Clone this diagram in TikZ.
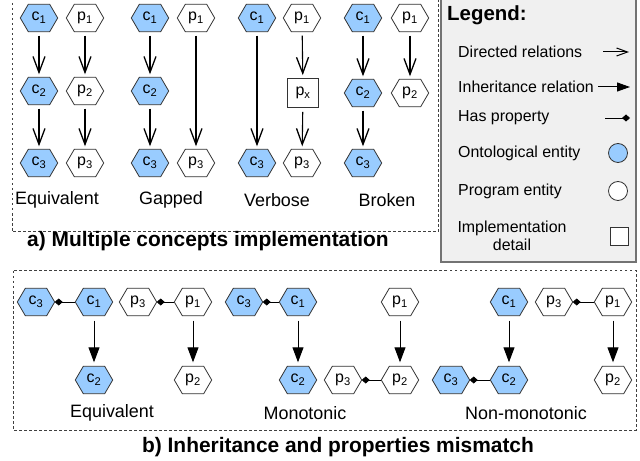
\documentclass[tikz,border=0pt]{standalone}
\usepackage{fontspec}
\setmainfont{Liberation Sans}
\usetikzlibrary{arrows.meta,backgrounds}
\definecolor{ontoblue}{HTML}{99CCFF}
\definecolor{legfill}{HTML}{F0F0F0}
\newcommand\hexoutline[1]{(#1.west) -- ([xshift=8bp]#1.north west) -- ([xshift=-8bp]#1.north east) -- (#1.east) -- ([xshift=-8bp]#1.south east) -- ([xshift=8bp]#1.south west) -- cycle}
\begin{document}
\begin{tikzpicture}[x=1bp,y=-1bp,
  hexline/.style={draw=black!80, line width=0.8bp},
  hexbase/.style={minimum width=37bp, minimum height=27bp, inner sep=0pt,
    font=\fontsize{16}{16}\selectfont},
  onto/.style={hexbase, append after command={\pgfextra{\begin{pgfonlayer}{background}\draw[hexline, fill=ontoblue] \hexoutline{\tikzlastnode};\end{pgfonlayer}}}},
  prog/.style={hexbase, append after command={\pgfextra{\begin{pgfonlayer}{background}\draw[hexline, fill=white] \hexoutline{\tikzlastnode};\end{pgfonlayer}}}},
  impl/.style={draw=black!80, fill=white, line width=0.8bp, minimum width=31bp,
    minimum height=29bp, inner sep=0pt, font=\fontsize{16}{16}\selectfont},
  dirarr/.style={-{Straight Barb[length=16bp,width=12bp,line width=1.3bp]},
    line width=1.1bp, shorten <=4bp, shorten >=3bp},
  inharr/.style={-{Triangle[length=15bp,width=11bp]}, line width=1bp,
    shorten <=5bp, shorten >=4bp},
  hasprop/.style={-{Diamond[length=8bp,width=7bp]}, line width=0.8bp},
  grouplbl/.style={font=\fontsize{18}{18}\selectfont},
  titlelbl/.style={font=\fontsize{21}{21}\selectfont\bfseries},
  legtxt/.style={font=\fontsize{16}{18}\selectfont, anchor=west, inner sep=0pt},
  dotbox/.style={draw=black!75, line width=1bp, dash pattern=on 2.5bp off 2.5bp}
]
\useasboundingbox (0,0) rectangle (640,461);

% frames
\draw[dotbox] (12,-2) rectangle (438,232);
\draw[dotbox] (13,271) rectangle (636,430);
\draw[draw=black!55, fill=legfill, line width=1.2bp] (441,-2) rectangle (636,262);

% ---------- a) top row ----------
% Equivalent
\node[onto] (ea1) at (39,18) {c\textsubscript{1}};
\node[onto] (ea2) at (39,91) {c\textsubscript{2}};
\node[onto] (ea3) at (39,163) {c\textsubscript{3}};
\node[prog] (ep1) at (85,18) {p\textsubscript{1}};
\node[prog] (ep2) at (85,91) {p\textsubscript{2}};
\node[prog] (ep3) at (85,163) {p\textsubscript{3}};
\draw[dirarr] (ea1) -- (ea2);
\draw[dirarr] (ea2) -- (ea3);
\draw[dirarr] (ep1) -- (ep2);
\draw[dirarr] (ep2) -- (ep3);
\node[grouplbl] (lEq) at (57,200) {Equivalent};
% Gapped
\node[onto] (ga1) at (150,18) {c\textsubscript{1}};
\node[onto] (ga2) at (150,91) {c\textsubscript{2}};
\node[onto] (ga3) at (150,163) {c\textsubscript{3}};
\node[prog] (gp1) at (196,18) {p\textsubscript{1}};
\node[prog] (gp3) at (196,163) {p\textsubscript{3}};
\draw[dirarr] (ga1) -- (ga2);
\draw[dirarr] (ga2) -- (ga3);
\draw[dirarr] (gp1) -- (gp3);
\node[grouplbl] (lGa) at (171,200) {Gapped};
% Verbose
\node[onto] (va1) at (257,18) {c\textsubscript{1}};
\node[onto] (va3) at (257,163) {c\textsubscript{3}};
\node[prog] (vp1) at (302,18) {p\textsubscript{1}};
\node[impl] (vpx) at (303,93) {p\textsubscript{x}};
\node[prog] (vp3) at (302,163) {p\textsubscript{3}};
\draw[dirarr] (va1) -- (va3);
\draw[dirarr] (vp1) -- (vpx);
\draw[dirarr] (vpx) -- (vp3);
\node[grouplbl] (lVe) at (277,200) {Verbose};
% Broken
\node[onto] (ba1) at (363,18) {c\textsubscript{1}};
\node[onto] (ba2) at (363,93) {c\textsubscript{2}};
\node[onto] (ba3) at (363,163) {c\textsubscript{3}};
\node[prog] (bp1) at (410,18) {p\textsubscript{1}};
\node[prog] (bp2) at (410,93) {p\textsubscript{2}};
\draw[dirarr] (ba1) -- (ba2);
\draw[dirarr] (ba2) -- (ba3);
\draw[dirarr] (bp1) -- (bp2);
\node[grouplbl] (lBr) at (387,200) {Broken};

\node[titlelbl, anchor=west, inner sep=0pt] (ta) at (27,241) {a) Multiple concepts implementation};

% ---------- legend ----------
\node[font=\fontsize{20.5}{20}\selectfont\bfseries, anchor=west, inner sep=0pt] (lg) at (447,15) {Legend:};
\node[legtxt] (l1) at (458,52) {Directed relations};
\node[legtxt] (l2) at (458,87) {Inheritance relation};
\node[legtxt] (l3) at (458,118) {Has property};
\node[legtxt] (l4) at (458,153) {Ontological entity};
\node[legtxt] (l5) at (458,191) {Program entity};
\node[font=\fontsize{16}{18}\selectfont, align=center, inner sep=0pt] (l6) at (512,236) {Implementation\\detail};
\coordinate (d1a) at (603,52); \coordinate (d1b) at (629,52);
\draw[-{Straight Barb[length=11bp,width=8bp,line width=1bp]}, line width=1bp] (d1a) -- (d1b);
\coordinate (d2a) at (598,87); \coordinate (d2b) at (630,87);
\draw[-{Triangle[length=13bp,width=9bp]}, line width=1bp] (d2a) -- (d2b);
\coordinate (d3a) at (605,118); \coordinate (d3b) at (630,118);
\draw[hasprop] (d3a) -- (d3b);
\node[circle, draw=black!80, fill=ontoblue, line width=0.8bp, minimum size=19bp, inner sep=0pt] (s4) at (618,153) {};
\node[circle, draw=black!80, fill=white, line width=0.8bp, minimum size=19bp, inner sep=0pt] (s5) at (618,191) {};
\node[draw=black!80, fill=white, line width=0.8bp, minimum size=18bp, inner sep=0pt] (s6) at (619,236) {};

% ---------- b) bottom ----------
% Equivalent
\node[onto] (Ec3) at (36,302) {c\textsubscript{3}};
\node[onto] (Ec1) at (94,302) {c\textsubscript{1}};
\node[onto] (Ec2) at (94,380) {c\textsubscript{2}};
\node[prog] (Ep3) at (138,302) {p\textsubscript{3}};
\node[prog] (Ep1) at (193,302) {p\textsubscript{1}};
\node[prog] (Ep2) at (193,380) {p\textsubscript{2}};
\draw[hasprop] (Ec1) -- (Ec3);
\draw[hasprop] (Ep1) -- (Ep3);
\draw[inharr] (Ec1) -- (Ec2);
\draw[inharr] (Ep1) -- (Ep2);
\node[grouplbl] (bEq) at (112,413) {Equivalent};
% Monotonic
\node[onto] (Mc3) at (244,302) {c\textsubscript{3}};
\node[onto] (Mc1) at (298,302) {c\textsubscript{1}};
\node[onto] (Mc2) at (298,380) {c\textsubscript{2}};
\node[prog] (Mp1) at (400,302) {p\textsubscript{1}};
\node[prog] (Mp3) at (343,380) {p\textsubscript{3}};
\node[prog] (Mp2) at (400,380) {p\textsubscript{2}};
\draw[hasprop] (Mc1) -- (Mc3);
\draw[hasprop] (Mp2) -- (Mp3);
\draw[inharr] (Mc1) -- (Mc2);
\draw[inharr] (Mp1) -- (Mp2);
\node[grouplbl] (bMo) at (305,413) {Monotonic};
% Non-monotonic
\node[onto] (Nc1) at (509,302) {c\textsubscript{1}};
\node[onto] (Nc2) at (509,380) {c\textsubscript{2}};
\node[onto] (Nc3) at (451,380) {c\textsubscript{3}};
\node[prog] (Np3) at (554,302) {p\textsubscript{3}};
\node[prog] (Np1) at (613,302) {p\textsubscript{1}};
\node[prog] (Np2) at (613,380) {p\textsubscript{2}};
\draw[hasprop] (Nc2) -- (Nc3);
\draw[hasprop] (Np1) -- (Np3);
\draw[inharr] (Nc1) -- (Nc2);
\draw[inharr] (Np1) -- (Np2);
\node[grouplbl] (bNm) at (526,413) {Non-monotonic};

\node[titlelbl] (tb) at (338,447) {b) Inheritance and properties mismatch};
\end{tikzpicture}
\end{document}
